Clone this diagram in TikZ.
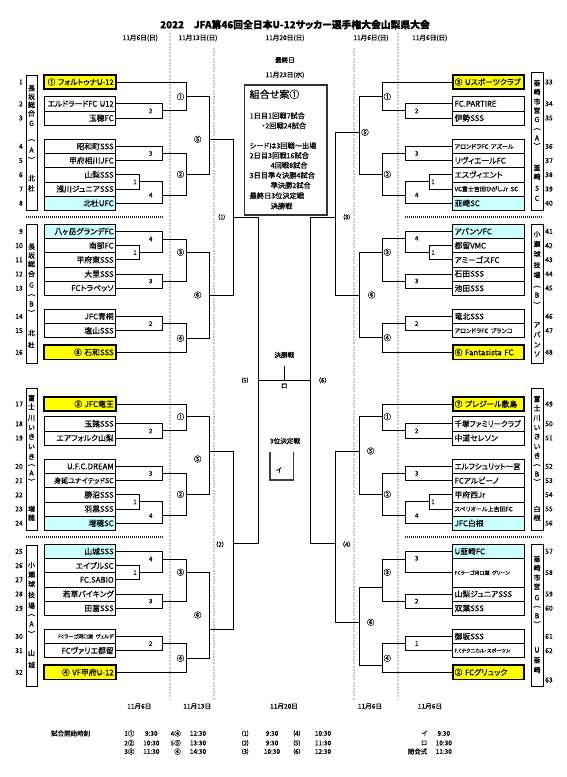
\documentclass[tikz,border=0pt]{standalone}
\usepackage{fontspec}
\usepackage{graphicx}
\setmainfont{Noto Sans CJK JP}[RawFeature=+palt, FakeBold=0.6]
\definecolor{yel}{HTML}{FFFF00}
\definecolor{lcy}{HTML}{CCFFFF}
\definecolor{gdot}{HTML}{C8C8C8}
\newcommand\tn{\fontsize{7.8}{8}\selectfont}
\newcommand\smf{\fontsize{6}{6.5}\selectfont}
\newcommand\xsf{\fontsize{5}{5.5}\selectfont}
\newsavebox\namebox
\newcommand\fitn[1]{\sbox\namebox{#1}\ifdim\wd\namebox>66pt\resizebox{66pt}{\height}{\usebox\namebox}\else\usebox\namebox\fi}
\newcounter{lbc}
\begin{document}
\begin{tikzpicture}[x=1pt,y=-1pt,
  br/.style={line width=0.9pt},
  lteam/.style={draw, line width=0.8pt, minimum height=14.2pt, text width=67.4pt, inner xsep=2pt, inner ysep=0pt, align=right, font=\tn},
  rteam/.style={lteam, align=left},
  seed/.style={fill=yel, line width=1.8pt},
  cy/.style={fill=lcy},
  lbl/.style={font=\fontsize{6.3}{7}\selectfont, inner sep=0pt},
  clbl/.style={font=\fontsize{7.5}{8}\selectfont, inner sep=0pt},
  vch/.style={font=\fontsize{7}{7}\selectfont, inner sep=0pt},
  numl/.style={font=\fontsize{6.8}{7}\selectfont, inner sep=0pt},
  dt/.style={font=\fontsize{6.6}{7}\selectfont, inner sep=0pt},
  itx/.style={font=\fontsize{7.2}{8}\selectfont, inner sep=0pt, anchor=west},
  sc/.style={font=\fontsize{6.5}{7}\selectfont, inner sep=0pt},
  gd/.style={gdot, line width=1.2pt, dash pattern=on 2pt off 1.2pt},
  sepl/.style={line width=1.6pt, dash pattern=on 1.4pt off 0.6pt, black!85},
  vbox/.style={line width=0.8pt}
]
\useasboundingbox (0,0) rectangle (567,777);
\fill[white] (0,0) rectangle (567,777);
\newcommand\LT[4][]{\node[lteam,#1] (t#2) at (80,#3) {\fitn{#4}};}
\newcommand\RT[4][]{\node[rteam,#1] (t#2) at (488.3,#3) {\fitn{#4}};}
\newcommand\lb[3][lbl]{\stepcounter{lbc}\edef\lbn{lb\arabic{lbc}}\node[#1] (\lbn) at (#2) {#3};}

% title and dates
\node[font=\fontsize{9.8}{10}\selectfont\bfseries, inner sep=0pt] (title) at (295,24.6) {2022　JFA第46回全日本U-12サッカー選手権大会山梨県大会};
\node[dt] (d1) at (140.3,38) {11月6日(日)};
\node[dt] (d2) at (198,38) {11月13日(日)};
\node[dt] (d3) at (285,38) {11月20日(日)};
\node[dt] (d4) at (371,38) {11月6日(日)};
\node[dt] (d5) at (429.8,38) {11月6日(日)};
\node[dt] (last) at (285,60) {最終日};
\node[dt] (lastd) at (285,75) {11月23日(水)};

% gray dotted guides
\draw[gd] (170,33) -- (170,700);
\draw[gd] (214,48) -- (214,700);
\draw[gd] (354,48) -- (354,700);
\draw[gd] (398,33) -- (398,700);

% separators
\draw[sepl] (26,216.7) -- (163.3,216.7);
\draw[sepl] (26,536.7) -- (163.3,536.7);
\draw[sepl] (405,216.7) -- (543,216.7);
\draw[sepl] (405,536.7) -- (543,536.7);

% venue boxes
\draw[vbox] (26,75) rectangle (37,210.3);
\draw[vbox] (26,224.3) rectangle (37,363);
\draw[vbox] (26,388) rectangle (37,530.3);
\draw[vbox] (26,545) rectangle (37,686.7);
\draw[vbox] (531,72) rectangle (543,210.3);
\draw[vbox] (531,224.3) rectangle (543,363);
\draw[vbox] (531,388) rectangle (543,530.3);
\draw[vbox] (531,544.3) rectangle (543,686.7);

\foreach \c/\y [count=\i] in {長/88.3,坂/96.7,総/104.8,合/113.3,G/123.3,︵/140,A/150,︶/160,北/178.3,杜/188.3}
  \node[vch] (vA\i) at (31.5,\y) {\c};
\foreach \c/\y [count=\i] in {長/246.7,坂/255.5,総/264,合/274,G/285,︵/295,B/304,︶/313,北/333,杜/345}
  \node[vch] (vB\i) at (31.5,\y) {\c};
\foreach \c/\y [count=\i] in {富/398,士/406.5,川/418,い/427.7,き/436.7,い/446.7,き/456.7,︵/465,A/473,︶/481.7,増/509,穂/517.7}
  \node[vch] (vC\i) at (31.5,\y) {\c};
\foreach \c/\y [count=\i] in {小/565,瀬/574.5,球/584,技/595,場/605.7,︵/615,A/624,︶/634,山/653,城/665}
  \node[vch] (vD\i) at (31.5,\y) {\c};
\foreach \c/\y [count=\i] in {韮/83,崎/92,市/101.7,営/110.5,G/119.5,︵/129,A/138,︶/146,韮/167.7,崎/176.7,S/188.3,C/198.3}
  \node[vch] (vE\i) at (537,\y) {\c};
\foreach \c/\y [count=\i] in {小/234,瀬/244,球/254,技/265,場/275,︵/286.7,B/295,︶/305,ア/325,バ/334.5,ン/345,ソ/354}
  \node[vch] (vF\i) at (537,\y) {\c};
\foreach \c/\y [count=\i] in {富/399,士/408,川/418,い/427.7,き/436.5,い/446.7,き/455.7,︵/465,B/474,︶/482,白/509,根/517.7}
  \node[vch] (vG\i) at (537,\y) {\c};
\foreach \c/\y [count=\i] in {韮/559,崎/568,市/577.7,営/586.7,G/597.7,︵/606.7,B/615.7,︶/624.3,U/650,韮/660,崎/670}
  \node[vch] (vH\i) at (537,\y) {\c};

% numbers
\foreach \n/\y in {1/82,2/103.8,3/118,4/146.4,5/160.6,6/174.8,7/189,8/203.2,9/231.4,10/245.6,11/259.8,12/274,13/288.2,14/316.4,15/330.6,16/352.3,17/404,18/423.8,19/438,20/466.4,21/480.6,22/494.8,23/509,24/523.2,25/551.4,26/565.6,27/579.8,28/594,29/608.2,30/636.4,31/650.6,32/672.3}
  \node[numl, anchor=east] (n\n) at (23,\y) {\n};
\foreach \n/\y in {33/82,34/103.8,35/118,36/146.4,37/160.6,38/174.8,39/189,40/203.2,41/231.4,42/245.6,43/259.8,44/274,45/288.2,46/316.4,47/330.6,48/352.3,49/404,50/423.8,51/438,52/466.4,53/480.6,54/494.8,55/509,56/523.2,57/551.4,58/572.7,59/594,60/608.2,61/636.4,62/650.6,63/680}
  \node[numl, anchor=west] (n\n) at (545,\y) {\n};

% left teams
\LT[seed]{1}{82}{① フォルトゥナU-12}
\LT{2}{103.8}{エルドラードFC U12}
\LT{3}{118}{玉穂FC}
\LT{4}{146.4}{昭和町SSS}
\LT{5}{160.6}{甲府相川JFC}
\LT{6}{174.8}{山梨SSS}
\LT{7}{189}{浅川ジュニアSSS}
\LT[cy]{8}{203.2}{北杜UFC}
\LT[cy]{9}{231.4}{八ヶ岳グランデFC}
\LT{10}{245.6}{南部FC}
\LT{11}{259.8}{甲府東SSS}
\LT{12}{274}{大里SSS}
\LT{13}{288.2}{FCトラベッソ}
\LT{14}{316.4}{JFC青桐}
\LT{15}{330.6}{塩山SSS}
\LT[seed]{16}{352.3}{⑧ 石和SSS}
\LT[seed]{17}{404}{⑤ JFC竜王}
\LT{18}{423.8}{玉諸SSS}
\LT{19}{438}{エアフォルク山梨}
\LT{20}{466.4}{U.F.C.DREAM}
\LT{21}{480.6}{\fontsize{7}{7}\selectfont 身延ユナイテッドSC}
\LT{22}{494.8}{勝沼SSS}
\LT{23}{509}{羽黒SSS}
\LT[cy]{24}{523.2}{増穂SC}
\LT[cy]{25}{551.4}{山城SSS}
\LT{26}{565.6}{エイブルSC}
\LT{27}{579.8}{FC.SABIO}
\LT{28}{594}{若草バイキング}
\LT{29}{608.2}{田富SSS}
\LT{30}{636.4}{\xsf FCラーゴ河口湖 ヴェルデ}
\LT{31}{650.6}{FCヴァリエ都留}
\LT[seed]{32}{672.3}{④ VF甲府U-12}

% right teams
\RT[seed]{33}{82}{③ Uスポーツクラブ}
\RT{34}{103.8}{FC.PARTIRE}
\RT{35}{118}{伊勢SSS}
\RT{36}{146.4}{\smf アロンドラFC アズール}
\RT{37}{160.6}{リヴィエールFC}
\RT{38}{174.8}{エスヴィエント}
\RT{39}{189}{\smf VC富士吉田ひがしJr SC}
\RT[cy]{40}{203.2}{韮崎SC}
\RT[cy]{41}{231.4}{アバンソFC}
\RT{42}{245.6}{都留VMC}
\RT{43}{259.8}{アミーゴスFC}
\RT{44}{274}{石田SSS}
\RT{45}{288.2}{池田SSS}
\RT{46}{316.4}{竜北SSS}
\RT{47}{330.6}{\smf アロンドラFC ブランコ}
\RT[seed]{48}{352.3}{⑥ Fantasista FC}
\RT[seed]{49}{404}{⑦ プレジール敷島}
\RT{50}{423.8}{千塚ファミリークラブ}
\RT{51}{438}{中道セレソン}
\RT{52}{466.4}{エルフシュリット一宮}
\RT{53}{480.6}{FCアルビーノ}
\RT{54}{494.8}{甲府西Jr}
\RT{55}{509}{\smf スペリオール上吉田FC}
\RT[cy]{56}{523.2}{JFC白根}
\RT[cy]{57}{551.4}{U韮崎FC}
\RT[minimum height=28.4pt]{58}{572.75}{\xsf FCラーゴ河口湖 グリーン}
\RT{59}{594}{山梨ジュニアSSS}
\RT{60}{608.2}{双葉SSS}
\RT{61}{636.4}{御坂SSS}
\RT{62}{650.6}{\xsf F.Cテクニカル・スポーツJr}
\RT[seed]{63}{672.3}{② FCグリュック}

% junction coordinates left
\coordinate (Am2) at (162.3,110.9); \coordinate (Am3) at (162.3,153.5);
\coordinate (Am1) at (139.3,181.9); \coordinate (Am4) at (162.3,195);
\coordinate (Ac1) at (186.7,96.7);  \coordinate (Ac2) at (186.7,174.3);
\coordinate (Ac5) at (209.3,139.3); \coordinate (Q1) at (233.3,217);
\coordinate (S1) at (258.3,380.3);
\coordinate (Bm1) at (139.3,252.7); \coordinate (Bm4) at (162.3,239);
\coordinate (Bm3) at (162.3,281.1); \coordinate (Bc3) at (186.7,252.3);
\coordinate (Bm2) at (162.3,323.5); \coordinate (Bc4) at (186.7,338.3);
\coordinate (Bc6) at (209.3,295);
\coordinate (Cm2) at (162.3,430.9); \coordinate (Cc1) at (186.7,416.7);
\coordinate (Cm3) at (162.3,473.5); \coordinate (Cm1) at (139.3,501.9);
\coordinate (Cm4) at (162.3,515.7); \coordinate (Cc2) at (186.7,494.3);
\coordinate (Cc5) at (209.3,451);   \coordinate (Q2) at (233.3,543.3);
\coordinate (Dm1) at (139.3,572.7); \coordinate (Dm4) at (162.3,559);
\coordinate (Dm3) at (162.3,601.1); \coordinate (Dc3) at (186.7,572.3);
\coordinate (Dm2) at (162.3,643.5); \coordinate (Dc4) at (186.7,658.3);
\coordinate (Dc6) at (209.3,629.3);
% right
\coordinate (RAm2) at (405.7,110.9); \coordinate (RAc1) at (382.3,96.7);
\coordinate (RAm3) at (405.7,153.5); \coordinate (RAm1) at (429.3,181.9);
\coordinate (RAm4) at (405.7,195);   \coordinate (RAc2) at (382.3,174.3);
\coordinate (RAc5) at (359,132.3);   \coordinate (Q3) at (335.5,217);
\coordinate (S2) at (310,380.3);
\coordinate (RBm1) at (429.3,252.7); \coordinate (RBm4) at (405.7,238.3);
\coordinate (RBm3) at (405.7,281.1); \coordinate (RBc3) at (382.3,252.3);
\coordinate (RBm2) at (405.7,323.5); \coordinate (RBc4) at (382.3,337.7);
\coordinate (RBc6) at (359,295);
\coordinate (RCm2) at (405.7,430.9); \coordinate (RCc1) at (382.3,416.7);
\coordinate (RCm3) at (405.7,473.5); \coordinate (RCm1) at (429.3,501.9);
\coordinate (RCm4) at (405.7,515.7); \coordinate (RCc2) at (382.3,494.3);
\coordinate (RCc5) at (359,451);     \coordinate (Q4) at (335.5,543.3);
\coordinate (RDm3) at (405.7,559);   \coordinate (RDm2) at (405.7,601.1);
\coordinate (RDc3) at (382.3,587.7); \coordinate (RDm1) at (405.7,643.5);
\coordinate (RDc4) at (382.3,665.7); \coordinate (RDc6) at (359,622.3);

% left connectors
\draw[br] (t2.east) -| (Am2) |- (t3.east);
\draw[br] (t4.east) -| (Am3) |- (t5.east);
\draw[br] (t6.east) -| (Am1) |- (t7.east);
\draw[br] (Am1) -| (Am4) |- (t8.east);
\draw[br] (t1.east) -| (Ac1) (Am2) -| (Ac1);
\draw[br] (Am3) -| (Ac2) (Am4) -| (Ac2);
\draw[br] (Ac1) -| (Ac5) (Ac2) -| (Ac5);
\draw[br] (t10.east) -| (Bm1) |- (t11.east);
\draw[br] (t9.east) -| (Bm4) (Bm1) -| (Bm4);
\draw[br] (t12.east) -| (Bm3) |- (t13.east);
\draw[br] (Bm4) -| (Bc3) (Bm3) -| (Bc3);
\draw[br] (t14.east) -| (Bm2) |- (t15.east);
\draw[br] (Bm2) -| (Bc4) (t16.east) -| (Bc4);
\draw[br] (Bc3) -| (Bc6) (Bc4) -| (Bc6);
\draw[br] (Ac5) -| (Q1) (Bc6) -| (Q1);
\draw[br] (t18.east) -| (Cm2) |- (t19.east);
\draw[br] (t17.east) -| (Cc1) (Cm2) -| (Cc1);
\draw[br] (t20.east) -| (Cm3) |- (t21.east);
\draw[br] (t22.east) -| (Cm1) |- (t23.east);
\draw[br] (Cm1) -| (Cm4) |- (t24.east);
\draw[br] (Cm3) -| (Cc2) (Cm4) -| (Cc2);
\draw[br] (Cc1) -| (Cc5) (Cc2) -| (Cc5);
\draw[br] (t26.east) -| (Dm1) |- (t27.east);
\draw[br] (t25.east) -| (Dm4) (Dm1) -| (Dm4);
\draw[br] (t28.east) -| (Dm3) |- (t29.east);
\draw[br] (Dm4) -| (Dc3) (Dm3) -| (Dc3);
\draw[br] (t30.east) -| (Dm2) |- (t31.east);
\draw[br] (Dm2) -| (Dc4) (t32.east) -| (Dc4);
\draw[br] (Dc3) -| (Dc6) (Dc4) -| (Dc6);
\draw[br] (Cc5) -| (Q2) (Dc6) -| (Q2);
\draw[br] (Q1) -| (S1) (Q2) -| (S1);

% right connectors
\draw[br] (t34.west) -| (RAm2) |- (t35.west);
\draw[br] (t33.west) -| (RAc1) (RAm2) -| (RAc1);
\draw[br] (t36.west) -| (RAm3) |- (t37.west);
\draw[br] (t38.west) -| (RAm1) |- (t39.west);
\draw[br] (RAm1) -| (RAm4) |- (t40.west);
\draw[br] (RAm3) -| (RAc2) (RAm4) -| (RAc2);
\draw[br] (RAc1) -| (RAc5) (RAc2) -| (RAc5);
\draw[br] (t42.west) -| (RBm1) |- (t43.west);
\draw[br] (t41.west) -| (RBm4) (RBm1) -| (RBm4);
\draw[br] (t44.west) -| (RBm3) |- (t45.west);
\draw[br] (RBm4) -| (RBc3) (RBm3) -| (RBc3);
\draw[br] (t46.west) -| (RBm2) |- (t47.west);
\draw[br] (RBm2) -| (RBc4) (t48.west) -| (RBc4);
\draw[br] (RBc3) -| (RBc6) (RBc4) -| (RBc6);
\draw[br] (RAc5) -| (Q3) (RBc6) -| (Q3);
\draw[br] (t50.west) -| (RCm2) |- (t51.west);
\draw[br] (t49.west) -| (RCc1) (RCm2) -| (RCc1);
\draw[br] (t52.west) -| (RCm3) |- (t53.west);
\draw[br] (t54.west) -| (RCm1) |- (t55.west);
\draw[br] (RCm1) -| (RCm4) |- (t56.west);
\draw[br] (RCm3) -| (RCc2) (RCm4) -| (RCc2);
\draw[br] (RCc1) -| (RCc5) (RCc2) -| (RCc5);
\draw[br] (t57.west) -| (RDm3) |- (t58.west);
\draw[br] (t59.west) -| (RDm2) |- (t60.west);
\draw[br] (RDm3) -| (RDc3) (RDm2) -| (RDc3);
\draw[br] (t61.west) -| (RDm1) |- (t62.west);
\draw[br] (RDm1) -| (RDc4) (t63.west) -| (RDc4);
\draw[br] (RDc3) -| (RDc6) (RDc4) -| (RDc6);
\draw[br] (RCc5) -| (Q4) (RDc6) -| (Q4);
\draw[br] (Q3) -| (S2) (Q4) -| (S2);

% final
\coordinate (fin) at (284.3,380.3);
\coordinate (fint) at (284.3,366);
\draw[br] (S1) -- (S2);
\draw[br] (fint) -- (fin);
\node[dt] (fl) at (284.3,355) {決勝戦};
\node[dt] (ro) at (284.3,386) {ロ};
\node[dt] (tpl) at (285,441) {3位決定戦};
\coordinate (tpA) at (270,451.7);
\coordinate (tpB) at (293.3,451.7);
\coordinate (tpC) at (293.3,480);
\draw[line width=1.3pt, black!75] (tpA) |- (tpC) -- (tpB);
\node[dt] (tpi) at (279,470) {イ};

% info box
\node[draw=black!80, line width=1.6pt, minimum width=82.4pt, minimum height=130pt, inner sep=0pt] (info) at (285.5,150) {};
\node[itx, font=\fontsize{10}{10}\selectfont] (i0) at (249.5,94.3) {組合せ案①};
\node[itx] (i1) at (249.5,115.7) {1日目1回戦7試合};
\node[itx] (i2) at (261.5,125.7) {・2回戦24試合};
\node[itx] (i3) at (249.5,145.7) {シードは3回戦～出場};
\node[itx] (i4) at (249.5,155.5) {2日目3回戦16試合};
\node[itx] (i5) at (270.5,165.3) {4回戦8試合};
\node[itx] (i6) at (249.5,175.3) {3日目準々決勝4試合};
\node[itx] (i7) at (270.5,185.3) {準決勝2試合};
\node[itx] (i8) at (249.5,195.7) {最終日3位決定戦};
\node[itx] (i9) at (270.5,206) {決勝戦};

% labels left
\lb{150.7,110.9}{2} \lb{150.7,153.5}{3} \lb{135,181.9}{1} \lb{150.7,195}{4}
\lb[clbl]{180.5,96.7}{①} \lb[clbl]{180.5,174.3}{②} \lb[clbl]{197.7,139.3}{⑤}
\lb{135,252.7}{1} \lb{150.7,239}{4} \lb{150.7,281.1}{3} \lb{150.7,323.5}{2}
\lb[clbl]{180.5,252.3}{③} \lb[clbl]{180.5,338.3}{④} \lb[clbl]{197.7,295}{⑥}
\lb{150.7,430.9}{2} \lb{150.7,473.5}{3} \lb{135,501.9}{1} \lb{150.7,515.7}{4}
\lb[clbl]{180.5,416.7}{①} \lb[clbl]{180.5,494.3}{②} \lb[clbl]{197.7,459}{⑤}
\lb{135,572.7}{1} \lb{150.7,559}{4} \lb{150.7,601.1}{3} \lb{150.7,643.5}{2}
\lb[clbl]{180.5,572.3}{③} \lb[clbl]{180.5,658.3}{④} \lb[clbl]{197.7,615}{⑥}
\lb{221.7,217}{⑴} \lb{220,544.3}{（2）} \lb{245,380.3}{⑸}
% labels right
\lb{416.7,110.9}{2} \lb{416.7,153.5}{3} \lb{433,181.9}{1} \lb{416.7,195}{4}
\lb[clbl]{387.3,96.7}{①} \lb[clbl]{387.3,174.3}{②} \lb[clbl]{365,132.3}{⑤}
\lb{433,252.7}{1} \lb{416.7,238.3}{4} \lb{416.7,281.1}{3} \lb{416.7,323.5}{2}
\lb[clbl]{387.3,252.3}{③} \lb[clbl]{387.3,337.7}{④} \lb[clbl]{371.7,295}{⑥}
\lb{416.7,430.9}{2} \lb{416.7,473.5}{3} \lb{433,501.9}{1} \lb{416.7,515.7}{4}
\lb[clbl]{387.3,416.7}{①} \lb[clbl]{387.3,494.3}{②} \lb[clbl]{370.7,451}{⑤}
\lb{416.7,558.3}{3} \lb{416.7,601.1}{2} \lb{416.7,643.5}{1}
\lb[clbl]{387.3,572.3}{③} \lb[clbl]{387.3,658.3}{④} \lb[clbl]{370.7,622.3}{⑥}
\lb{346.7,217}{⑶} \lb{346.7,544.3}{（4）} \lb{322.7,380.3}{（6）}

% bottom dates
\node[dt] (bd1) at (139.3,706.3) {11月6日};
\node[dt] (bd2) at (197.2,706.3) {11月13日};
\node[dt] (bd3) at (284,706.3) {11月20日};
\node[dt] (bd4) at (370,706.3) {11月6日};
\node[dt] (bd5) at (430,706.3) {11月6日};
\node[sc] (st) at (70.6,733.4) {試合開始時刻};
% schedule
\foreach \a/\b/\c/\d/\e/\f/\g/\h/\y [count=\i] in
  {1①/9:30/4④/12:30/⑴/9:30/⑷/10:30/733.4,
   2②/10:30/5⑤/13:30/⑵/9:30/⑸/11:30/743,
   3③/11:30/⑥/14:30/⑶/10:30/⑹/12:30/751.5}{
  \node[sc, anchor=east] (sa\i) at (134.6,\y) {\a};
  \node[sc] (sb\i) at (151.3,\y) {\b};
  \node[sc, anchor=east] (sc\i) at (181,\y) {\c};
  \node[sc] (sd\i) at (198,\y) {\d};
  \node[sc] (se\i) at (245.2,\y) {\e};
  \node[sc] (sf\i) at (272,\y) {\f};
  \node[sc] (sg\i) at (296.8,\y) {\g};
  \node[sc] (sh\i) at (323,\y) {\h};
}
\foreach \a/\b/\y [count=\i] in {イ/9:30/733.4, ロ/10:30/743, 閉会式/11:30/751.5}{
  \node[sc, anchor=east] (sx\i) at (427.5,\y) {\a};
  \node[sc] (sy\i) at (443.8,\y) {\b};
}
\end{tikzpicture}
\end{document}
